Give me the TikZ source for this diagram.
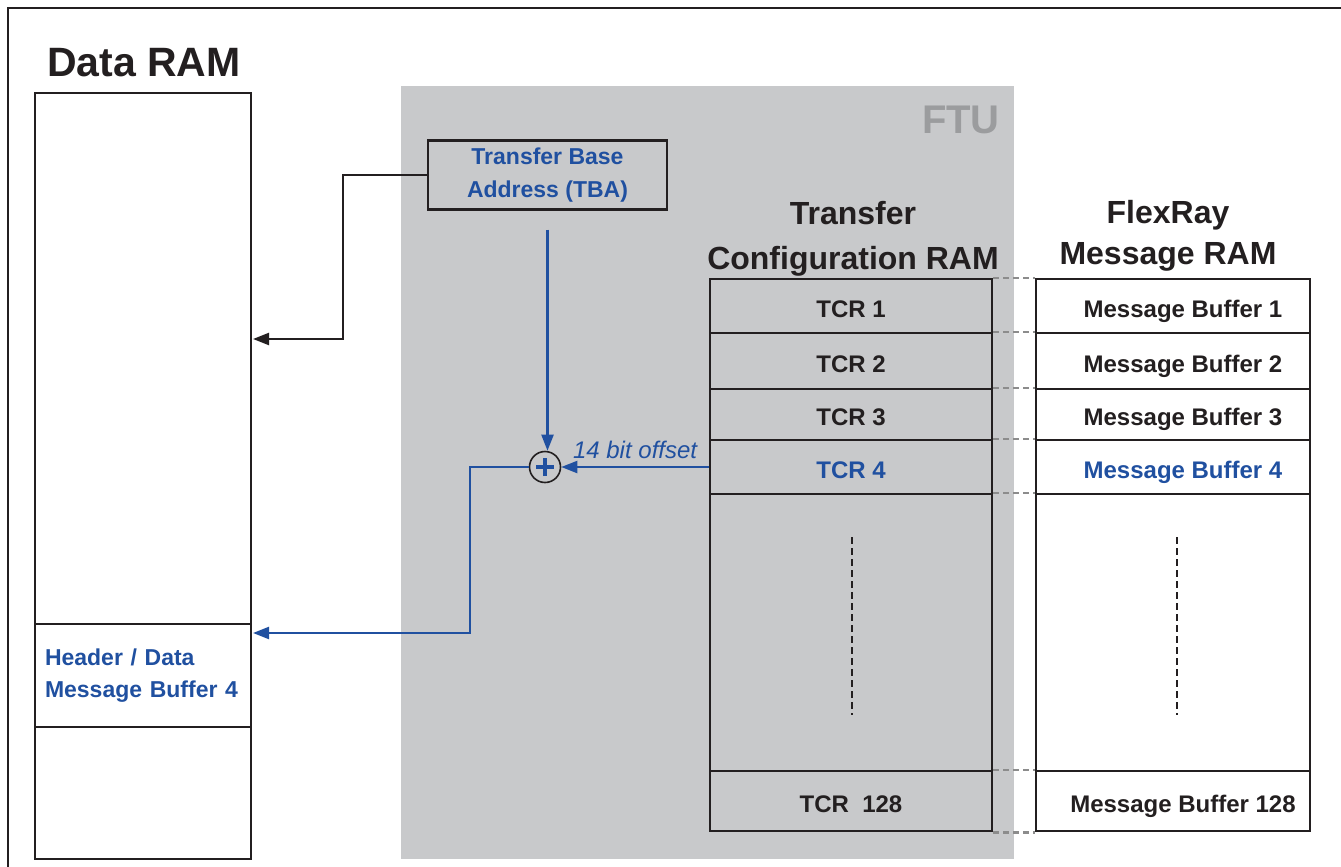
\documentclass[tikz,border=0pt]{standalone}
\usepackage{fontspec}
\setmainfont{Liberation Sans}
\usetikzlibrary{arrows.meta}

\definecolor{ftublue}{RGB}{32,80,160}
\definecolor{ftugray}{RGB}{200,201,203}
\definecolor{ftulabel}{RGB}{155,156,158}
\definecolor{ink}{RGB}{35,31,32}
\definecolor{linkgray}{RGB}{140,140,140}

\tikzset{
  cell/.style={draw=ink, line width=2.2pt, inner sep=0pt,
    font=\bfseries\fontsize{24}{30}\selectfont},
  title/.style={text=ink, align=center},
  blueline/.style={draw=ftublue, line width=2.2pt},
  blackline/.style={draw=ink, line width=2.2pt},
  link/.style={draw=linkgray, line width=2.8pt, dash pattern=on 6pt off 4pt},
  dotline/.style={draw=ink, line width=2.8pt, dash pattern=on 7pt off 4pt},
  adder/.style={circle, draw=ink, line width=1.6pt, minimum size=31, inner sep=0pt,
    path picture={
      \draw[ftublue, line width=3.5pt]
        ([xshift=-9pt]path picture bounding box.center) -- ([xshift=9pt]path picture bounding box.center)
        ([yshift=-9pt]path picture bounding box.center) -- ([yshift=9pt]path picture bounding box.center);
    }}
}

\begin{document}
\begin{tikzpicture}[x=1pt, y=-1pt, >={Stealth[inset=0pt,length=16pt,width=12pt]}]
  \useasboundingbox (0,0) rectangle (1341,867);

  % outer frame (open to the right and below)
  \draw[ink, line width=2.5pt] (8,867) -- (8,8) -- (1341,8);

  % FTU block
  \fill[ftugray] (401,86) rectangle (1014,859);
  \node[anchor=east, inner sep=0pt, text=ftulabel, font=\bfseries\fontsize{40}{40}\selectfont]
    (ftu) at (1000,120) {FTU};

  % Data RAM
  \node[title, font=\bfseries\fontsize{41}{41}\selectfont] (dramtitle) at (144,63) {Data RAM};
  \node[cell, minimum width=216, minimum height=531] (dram) at (143,358.5) {};
  \node[cell, text=ftublue, text width=196pt, inner xsep=10pt, align=left,
    minimum height=103, font=\bfseries\fontsize{23}{32}\selectfont]
    (dmb4) at (143,675.5) {Header / Data\\Message Buffer 4};
  \node[cell, minimum width=216, minimum height=132] (dlow) at (143,793) {};

  % column titles
  \node[title, font=\bfseries\fontsize{32}{45}\selectfont] (tcrtitle) at (853,239)
    {Transfer\\Configuration RAM};
  \node[title, font=\bfseries\fontsize{32}{41}\selectfont] (mbtitle) at (1168,236)
    {FlexRay\\Message RAM};

  % transfer configuration RAM and message RAM rows
  \foreach \i/\top/\bot/\tcrtxt/\mbtxt/\clr in {
      1/279/333/TCR 1/Message Buffer 1/ink,
      2/333/389/TCR 2/Message Buffer 2/ink,
      3/389/440/TCR 3/Message Buffer 3/ink,
      4/440/494/TCR 4/Message Buffer 4/ftublue,
      gap/494/771///ink,
      128/771/831/TCR~~128/Message Buffer 128/ink} {
    \node[cell, text=\clr, text height=22pt, text depth=0pt,
      minimum width=282, minimum height={\bot-\top}]
      (tcr\i) at (851,{(\top+\bot)/2}) {\tcrtxt};
    \node[cell, text=\clr, text height=22pt, text depth=0pt,
      minimum width=274, minimum height={\bot-\top}]
      (mb\i) at (1173,{(\top+\bot)/2}) {\hspace*{20pt}\mbtxt};
  }

  % dashed links between the two columns
  \foreach \i in {1,2,3,4,gap,128}
    \draw[link] (tcr\i.north east) -- (mb\i.north west);
  \draw[link] (tcr128.south east) -- (mb128.south west);

  % skipped rows
  \draw[dotline] (852,537) -- (852,715);
  \draw[dotline] (1177,537) -- (1177,715);

  % transfer base address and adder
  \node[cell, text=ftublue, minimum width=239, minimum height=69, align=center,
    font=\bfseries\fontsize{23}{33}\selectfont] (tba) at (547.5,175)
    {Transfer Base\\Address (TBA)};
  \node[adder] (plus) at (545,467) {};

  % connectors
  \coordinate (baseIn) at (253,339);
  \coordinate (hdrIn) at (253,633);
  \draw[blackline, ->] (tba.west) -- (343,175) |- (baseIn);
  \draw[blueline, ->] ([yshift=-19pt]tba.south) -- (tba.south |- plus.north);
  \draw[blueline, ->] (tcr4.west) -- node[above=4pt, text=ftublue,
    font=\itshape\fontsize{24}{24}\selectfont] (offset) {14 bit offset} (plus.east);
  \draw[blueline, ->] (plus.west) -| (470,633) -- (hdrIn);
\end{tikzpicture}
\end{document}
